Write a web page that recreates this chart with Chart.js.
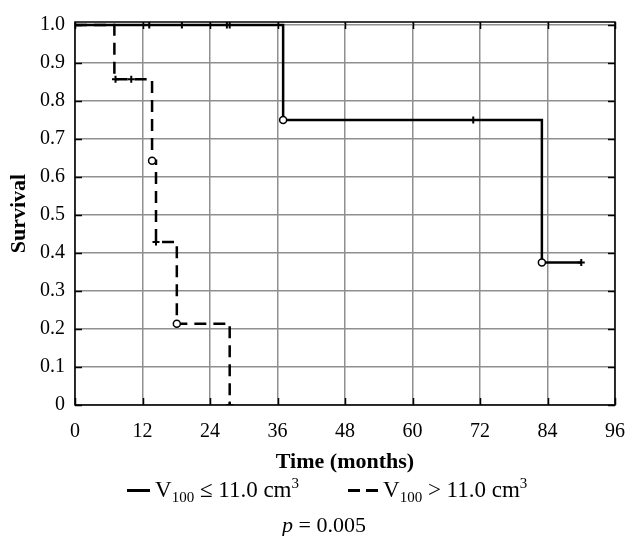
<!DOCTYPE html>
<html>
<head>
<meta charset="utf-8">
<script src="https://cdn.jsdelivr.net/npm/chart.js@4"></script>
<style>
  body { margin: 0; background: #fff; }
  #wrap { position: relative; width: 627px; height: 536px; font-family: "Liberation Serif", serif; color: #000; }
  .lg { position: absolute; font-size: 23px; line-height: 26px; white-space: nowrap; }
  .lg sub { font-size: 15px; vertical-align: -5px; line-height: 0; }
  .lg sup { font-size: 15px; vertical-align: 9px; line-height: 0; }
  .sw { position: absolute; height: 3px; background: #000; }
</style>
</head>
<body>
<div id="wrap">
  <canvas id="km" width="627" height="480"></canvas>
  <div class="sw" style="left:127px; top:489px; width:23px;"></div>
  <div class="lg" style="left:155px; top:477px;">V<sub>100</sub> ≤ 11.0 cm<sup>3</sup></div>
  <div class="sw" style="left:348px; top:489px; width:12px;"></div>
  <div class="sw" style="left:366px; top:489px; width:12px;"></div>
  <div class="lg" style="left:383px; top:477px;">V<sub>100</sub> &gt; 11.0 cm<sup>3</sup></div>
  <div class="lg" style="left:282px; top:512px; font-size:22px;"><i>p</i> = 0.005</div>
</div>
<script>
// tick values
const xTickValues = [0, 12, 24, 36, 48, 60, 72, 84, 96];
const yTickValues = [0, 0.1, 0.2, 0.3, 0.4, 0.5, 0.6, 0.7, 0.8, 0.9, 1.0];

// V100 <= 11.0 cm3 (solid)
const lowTime = [0, 37, 83, 90];
const lowSurv = [1, 0.75, 0.375, 0.375];
const lowCensorTime = [13.2, 19, 27, 27.5, 70.8, 90];
const lowCensorSurv = [1, 1, 1, 1, 0.75, 0.375];
const lowEventTime = [37, 83];
const lowEventSurv = [0.75, 0.375];

// V100 > 11.0 cm3 (dashed)
const highTime = [0, 7, 13.7, 14.4, 18.1, 27.5];
const highSurv = [1, 0.857, 0.643, 0.429, 0.214, 0];
const highCensorTime = [7.2, 10, 14.4, 27.5];
const highCensorSurv = [0.857, 0.857, 0.429, 0];
const highEventTime = [13.7, 18.1];
const highEventSurv = [0.643, 0.214];

function pts(xs, ys) {
    return xs.map((x, i) => ({ x: x, y: ys[i] }));
}

// frame with inward ticks, matlab style
const framePlugin = {
    id: 'frame',
    beforeDatasetsDraw(chart) {
        const { ctx, chartArea: a, scales } = chart;
        ctx.save();
        ctx.strokeStyle = '#000';
        ctx.lineWidth = 1.5;
        ctx.strokeRect(a.left, a.top, a.right - a.left, a.bottom - a.top);
        ctx.beginPath();
        xTickValues.forEach(v => {
            const px = Math.round(scales.x.getPixelForValue(v)) + 0.5;
            ctx.moveTo(px, a.bottom); ctx.lineTo(px, a.bottom - 7);
            ctx.moveTo(px, a.top); ctx.lineTo(px, a.top + 7);
        });
        yTickValues.forEach(v => {
            const py = Math.round(scales.y.getPixelForValue(v)) + 0.5;
            ctx.moveTo(a.left, py); ctx.lineTo(a.left + 7, py);
            ctx.moveTo(a.right, py); ctx.lineTo(a.right - 7, py);
        });
        ctx.stroke();
        ctx.restore();
    }
};

const tickFont = { family: 'Liberation Serif', size: 20 };
const titleFont = { family: 'Liberation Serif', size: 22, weight: 'bold' };

new Chart(document.getElementById('km'), {
    type: 'scatter',
    data: {
        datasets: [
            { label: 'low censored', data: pts(lowCensorTime, lowCensorSurv), pointStyle: 'cross', pointRadius: 3.5, borderColor: '#000', borderWidth: 2, order: 0 },
            { label: 'low events', data: pts(lowEventTime, lowEventSurv), pointStyle: 'circle', pointRadius: 3.5, borderColor: '#000', backgroundColor: '#fff', borderWidth: 1.5, order: 0 },
            { label: 'high censored', data: pts(highCensorTime, highCensorSurv), pointStyle: 'cross', pointRadius: 3.5, borderColor: '#000', borderWidth: 2, order: 0 },
            { label: 'high events', data: pts(highEventTime, highEventSurv), pointStyle: 'circle', pointRadius: 3.5, borderColor: '#000', backgroundColor: '#fff', borderWidth: 1.5, order: 0 },
            { label: 'V100 ≤ 11.0 cm3', data: pts(lowTime, lowSurv), showLine: true, stepped: 'before', borderColor: '#000', borderWidth: 2.5, pointRadius: 0, order: 1 },
            { label: 'V100 > 11.0 cm3', data: pts(highTime, highSurv), showLine: true, stepped: 'before', borderColor: '#000', borderWidth: 2.5, borderDash: [12, 7], pointRadius: 0, order: 1 }
        ]
    },
    options: {
        responsive: false,
        animation: false,
        layout: { padding: { left: 0, top: 21, right: 0, bottom: 0 } },
        plugins: { legend: { display: false }, tooltip: { enabled: false } },
        scales: {
            x: {
                type: 'linear', min: 0, max: 96,
                afterBuildTicks: s => { s.ticks = xTickValues.map(v => ({ value: v })); },
                afterFit: s => { s.height = 75; s.paddingRight = 12; s.paddingLeft = 0; },
                grid: { color: '#8f8f8f', lineWidth: 1.5, drawTicks: false },
                border: { display: false },
                ticks: { font: tickFont, color: '#000', padding: 15, maxRotation: 0 },
                title: { display: true, text: 'Time (months)', font: titleFont, color: '#000', padding: { top: 0, bottom: 4 } }
            },
            y: {
                type: 'linear', min: 0, max: 1.008,
                afterBuildTicks: s => { s.ticks = yTickValues.map(v => ({ value: v })); },
                afterFit: s => { s.width = 75; },
                grid: { color: '#8f8f8f', lineWidth: 1.5, drawTicks: false },
                border: { display: false },
                ticks: { font: tickFont, color: '#000', padding: 10, callback: v => v === 0 ? '0' : v.toFixed(1) },
                title: { display: true, text: 'Survival', font: titleFont, color: '#000', padding: { top: 6, bottom: 0 } }
            }
        }
    },
    plugins: [framePlugin]
});
</script>
</body>
</html>
